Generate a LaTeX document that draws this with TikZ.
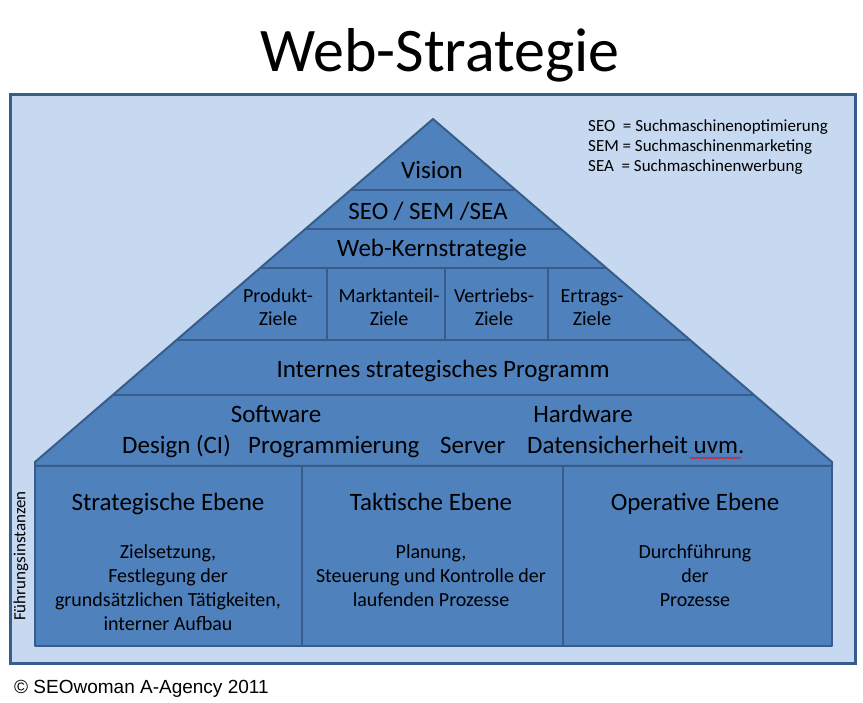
\documentclass[tikz,border=0pt]{standalone}
\usepackage{fontspec}
\setmainfont{Carlito}
\newfontfamily\arialfont{Liberation Sans}
\usetikzlibrary{decorations.pathmorphing}

\definecolor{hellblau}{HTML}{C6D9F1}
\definecolor{mittelblau}{HTML}{4F81BD}
\definecolor{randblau}{HTML}{385D8A}

\tikzset{
  rahmen/.style={draw=randblau, line width=3pt, fill=hellblau},
  ebene/.style={draw=randblau, line width=2pt, fill=mittelblau, line join=round},
  trenner/.style={draw=randblau, line width=2pt},
  gross/.style={font=\fontsize{25}{30}\selectfont, inner sep=0pt, anchor=base},
  klein/.style={font=\fontsize{20}{23}\selectfont, inner sep=0pt, align=center},
}

\begin{document}
\begin{tikzpicture}[x=1pt,y=-1pt]
    \useasboundingbox (0,0) rectangle (863,703);

    \node[font=\fontsize{62}{68}\selectfont, inner sep=0pt, anchor=base] (titel) at (440,72) {Web-Strategie};
    \draw[rahmen] (10,95) rectangle (855,663);

    % Pyramide
    \coordinate (Spitze) at (433,119);
    \draw[ebene] (Spitze) -- (832,462) -- (832,466) -- (35,466) -- (35,462) -- cycle;
    \foreach \y in {190,229,268,340,395} {
        \pgfmathsetmacro{\dx}{1.1603*(\y-119)}
        \draw[trenner] (433-\dx,\y) -- (433+\dx,\y);
    }
    \foreach \x in {327,445,548}
        \draw[trenner] (\x,268) -- (\x,340);

    % Ebenen unten
    \draw[ebene] (35,466) rectangle (832,646);
    \foreach \x in {302,563}
        \draw[trenner] (\x,466) -- (\x,646);

    \node[gross] (vision) at (432,179) {Vision};
    \node[gross] (seo) at (428,220) {SEO / SEM /SEA};
    \node[gross] (kern) at (432,257) {Web-Kernstrategie};
    \node[klein] (produkt) at (278,309) {\strut Produkt-\\\strut Ziele};
    \node[klein] (markt) at (389,309) {\strut Marktanteil-\\\strut Ziele};
    \node[klein] (vertrieb) at (494,309) {\strut Vertriebs-\\\strut Ziele};
    \node[klein] (ertrag) at (592,309) {\strut Ertrags-\\\strut Ziele};
    \node[gross] (programm) at (443,378) {Internes strategisches Programm};
    \node[gross] (software) at (276,423) {Software};
    \node[gross] (hardware) at (583,423) {Hardware};
    \node[gross, anchor=base west] (design) at (122,454) {Design (CI)};
    \node[gross, anchor=base west] (programmierung) at (248,454) {Programmierung};
    \node[gross, anchor=base west] (server) at (440,454) {Server};
    \node[gross, anchor=base west] (daten) at (527,454) {Datensicherheit uvm.};
    \draw[red, line width=0.6pt, decorate, decoration={snake, amplitude=0.8pt, segment length=3pt}]
        (690,458) -- (741,458);

    \node[gross] (strategisch) at (168,511) {Strategische Ebene};
    \node[gross] (taktisch) at (431,511) {Taktische Ebene};
    \node[gross] (operativ) at (695,511) {Operative Ebene};
    \node[klein, font=\fontsize{20}{24}\selectfont] (ziel) at (168,588)
        {Zielsetzung,\\Festlegung der\\grundsätzlichen Tätigkeiten,\\interner Aufbau};
    \node[klein, font=\fontsize{20}{24}\selectfont] (planung) at (431,576)
        {Planung,\\Steuerung und Kontrolle der\\laufenden Prozesse};
    \node[klein, font=\fontsize{20}{24}\selectfont] (durchf) at (695,576)
        {Durchführung\\der\\Prozesse};

    \node[font=\fontsize{17}{20}\selectfont, inner sep=0pt, rotate=90] (fuehrung) at (21,556) {Führungsinstanzen};

    % Legende
    \node[font=\fontsize{17}{20}\selectfont, inner sep=0pt, align=left, anchor=west] (legende) at (588,147)
        {SEO\ \ = Suchmaschinenoptimierung\\SEM = Suchmaschinenmarketing\\SEA\ \ = Suchmaschinenwerbung};

    \node[font=\arialfont\fontsize{19}{22}\selectfont, inner sep=0pt, anchor=base west] (copy) at (14,693)
        {© SEOwoman A-Agency 2011};
\end{tikzpicture}
\end{document}
